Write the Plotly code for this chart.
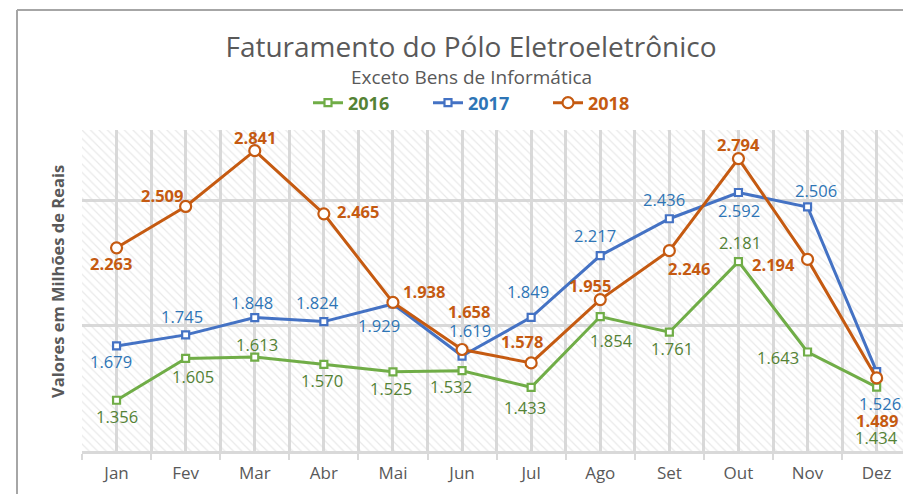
import plotly.graph_objects as go

months = ["Jan", "Fev", "Mar", "Abr", "Mai", "Jun", "Jul", "Ago", "Set", "Out", "Nov", "Dez"]
v2016 = [1.356, 1.605, 1.613, 1.570, 1.525, 1.532, 1.433, 1.854, 1.761, 2.181, 1.643, 1.434]
v2017 = [1.679, 1.745, 1.848, 1.824, 1.929, 1.619, 1.849, 2.217, 2.436, 2.592, 2.506, 1.526]
v2018 = [2.263, 2.509, 2.841, 2.465, 1.938, 1.658, 1.578, 1.955, 2.246, 2.794, 2.194, 1.489]
series_names = ["2016", "2017", "2018"]

# label offsets in screen pixels (dx right, dy down) -- styling only
off2016 = [(0, 16), (7, 18), (2, -13), (-2, 16), (-2, 17), (-11, 16), (-6, 20), (11, 24), (3, 16), (2, -19), (-30, 5), (0, 50)]
off2017 = [(-6, 16), (-4, -18), (-3, -15), (-6, -19), (-14, 22), (8, -26), (-3, -26), (-5, -20), (-5, -19), (1, 18), (8, -16), (3, 32)]
off2018 = [(-6, 16), (-24, -11), (0, -13), (34, -2), (31, -11), (7, -38), (-9, -21), (-10, -14), (20, 18), (0, -14), (-34, 5), (0, 43)]

Y_MIN, Y_MAX = 1.054, 2.964
GRID = "#d9d9d9"
TXT = "#595959"
FONT = "Open Sans"

xs = list(range(len(months)))

styles = [
    dict(line="#70AD47", label="#548235", symbol="square", size=7, bold=False, off=off2016),
    dict(line="#4472C4", label="#2E75B6", symbol="square", size=7, bold=False, off=off2017),
    dict(line="#C55A11", label="#C55A11", symbol="circle", size=11, bold=True, off=off2018),
]

fig = go.Figure()

# hatched plot-area background
fig.add_trace(go.Bar(
    x=xs, y=[Y_MAX - Y_MIN] * len(xs), base=Y_MIN, width=1,
    marker=dict(color="rgba(0,0,0,0)", line=dict(width=0),
                pattern=dict(shape="\\", size=6, solidity=0.2, fgcolor="#d4d4d4",
                             bgcolor="rgba(0,0,0,0)", fillmode="overlay")),
    hoverinfo="skip", showlegend=False,
))

annotations = []
for name, vals, st in zip(series_names, [v2016, v2017, v2018], styles):
    fig.add_trace(go.Scatter(
        x=xs, y=vals, mode="lines+markers",
        name=f"<b><span style='color:{st['label']}'>{name}</span></b>",
        line=dict(color=st["line"], width=3),
        marker=dict(symbol=st["symbol"], size=st["size"], color="white",
                    line=dict(color=st["line"], width=2.2)),
    ))
    for xi, v, (dx, dy) in zip(xs, vals, st["off"]):
        txt = f"{v:.3f}"
        if st["bold"]:
            txt = f"<b>{txt}</b>"
        annotations.append(dict(
            x=xi, y=v, xref="x", yref="y", text=txt, showarrow=False,
            xshift=dx, yshift=-dy, xanchor="center", yanchor="middle",
            font=dict(family=FONT, size=16.5, color=st["label"]),
        ))

W, H = 903, 494
L, R, T, B = 82, 0, 130, 43
pw, ph = W - L - R, H - T - B

def px_to_paper(px, py):
    return (px - L) / pw, 1 - (py - T) / ph

sx, sy = px_to_paper(471, 77)
annotations.append(dict(x=sx, y=sy, xref="paper", yref="paper", text="Exceto Bens de Informática",
                        showarrow=False, font=dict(family=FONT, size=19, color=TXT),
                        xanchor="center", yanchor="middle"))
ax_, ay_ = px_to_paper(57, 282)
annotations.append(dict(x=ax_, y=ay_, xref="paper", yref="paper", text="<b>Valores em Milhões de Reais</b>",
                        showarrow=False, textangle=-90, font=dict(family=FONT, size=16.5, color=TXT),
                        xanchor="center", yanchor="middle"))

bx0, by0 = px_to_paper(17, 10)
shapes = [
    dict(type="line", xref="paper", yref="paper", x0=bx0, x1=1.2, y0=by0, y1=by0,
         line=dict(color="#a6a6a6", width=2)),
    dict(type="line", xref="paper", yref="paper", x0=bx0, x1=bx0, y0=by0, y1=-0.3,
         line=dict(color="#a6a6a6", width=2)),
]

lx, ly = px_to_paper(488, 103)

fig.update_layout(
    width=W, height=H,
    margin=dict(l=L, r=R, t=T, b=B),
    paper_bgcolor="white", plot_bgcolor="white",
    font=dict(family=FONT, color=TXT),
    title=dict(text="Faturamento do Pólo Eletroeletrônico", xref="container", yref="container",
               x=471 / W, y=1 - 47 / H, xanchor="center", yanchor="middle",
               font=dict(family=FONT, size=28, color=TXT)),
    legend=dict(orientation="h", x=lx, y=ly, xanchor="center", yanchor="middle",
                font=dict(family=FONT, size=18), bgcolor="rgba(0,0,0,0)", itemwidth=30,
                entrywidth=75, entrywidthmode="pixels"),
    showlegend=True,
    annotations=annotations,
    shapes=shapes,
    bargap=0,
    xaxis=dict(
        range=[-0.5, -0.5 + pw / 69.1], tickvals=xs, ticktext=months,
        showgrid=True, gridcolor=GRID, gridwidth=2.5, ticks="",
        minor=dict(tickvals=[i - 0.5 for i in range(len(months) + 1)], showgrid=True,
                   gridcolor=GRID, gridwidth=2.5, ticks="outside", ticklen=6,
                   tickcolor=GRID, tickwidth=2),
        showline=True, linecolor=GRID, linewidth=2.5, zeroline=False,
        tickfont=dict(family=FONT, size=17, color=TXT), ticklabelstandoff=5,
        fixedrange=True,
    ),
    yaxis=dict(
        range=[Y_MIN, Y_MAX], tick0=Y_MIN, dtick=0.745, showticklabels=False,
        showgrid=True, gridcolor=GRID, gridwidth=2.5, zeroline=False, ticks="",
        fixedrange=True,
    ),
)

fig.write_html("out.html", config={"displayModeBar": False})

with open("out.html", "r", encoding="utf-8") as f:
    html = f.read()
html = html.replace("<head>", "<head><style>html,body{margin:0;padding:0;overflow:hidden;}</style>", 1)
with open("out.html", "w", encoding="utf-8") as f:
    f.write(html)
